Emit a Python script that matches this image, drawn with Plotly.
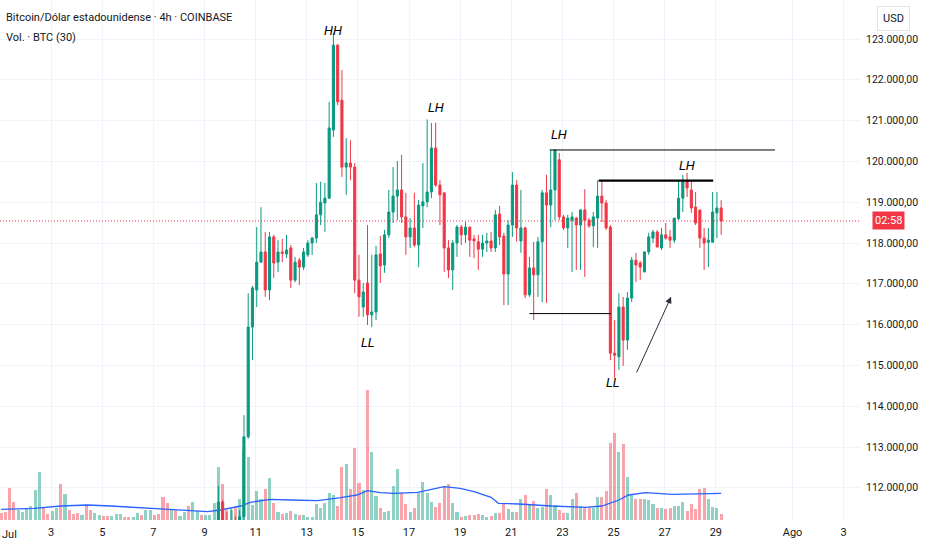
import pandas as pd
import plotly.graph_objects as go

# 4h candles (local time, UTC-3), first one visible near the bottom edge
candle_start = "2025-07-09 13:00"
opens = [
    110900, 111650, 111100, 110950, 111200, 111050,
    111290, 113250, 115940, 116850, 117530, 117780, 116850, 118150, 117530, 117780,
    117730, 117880, 117090, 117580, 117410, 117710, 118000, 118120, 118690, 118980,
    119100, 120770, 122850, 121500, 119860, 119960, 119860, 117090, 116430, 117020,
    116240, 116310, 117730, 117460, 118200, 118760, 119150, 119300, 118640, 118150,
    118370, 117950, 118910, 119010, 119250, 120330, 119420, 119230, 117880, 117340,
    118000, 118390, 118200, 118390, 118100, 118030, 117850, 118000, 118050, 117880,
    118710, 118170, 117240, 118440, 119420, 118050, 118370, 116730, 117390, 117220,
    118030, 119230, 118930, 119300, 120040, 118640, 118370, 118560, 118610, 118440,
    118810, 118560, 118420, 118610, 119150, 118980, 118390, 115300, 115210, 116430,
    115620, 116650, 117580, 117510, 117290, 117780, 118120, 118270, 117880, 118200,
    118150, 118070, 118600, 119100, 119500, 119300, 118880, 118810, 118120, 118020,
    118020, 118740, 118860,
]
highs = [
    112050, 111700, 111400, 111500, 111300, 111450,
    113780, 116770, 116950, 118390, 118880, 118270, 118270, 118200, 118070, 118100,
    118200, 117950, 117660, 117630, 117880, 118070, 118150, 119470, 119500, 119470,
    121460, 123150, 122880, 122240, 120570, 120520, 119960, 117710, 117020, 118440,
    117710, 117930, 118170, 118320, 119300, 119860, 120010, 120160, 119230, 118610,
    119230, 119050, 119960, 121030, 120940, 120950, 119540, 119230, 118070, 118070,
    118440, 118440, 118520, 118400, 118200, 118200, 118200, 118250, 118270, 118810,
    118910, 118250, 118560, 119740, 119540, 119300, 118400, 117660, 118030, 118150,
    119300, 119670, 120280, 120280, 120210, 118690, 118690, 118760, 118640, 118830,
    119320, 118610, 118760, 119540, 119540, 119050, 118440, 116110, 116770, 116680,
    116800, 117660, 117760, 117560, 117800, 118250, 118320, 118320, 118370, 118490,
    118320, 118610, 119540, 119670, 119720, 119540, 119250, 118810, 118370, 118370,
    119250, 119250, 119050,
]
lows = [
    110700, 110900, 110800, 110800, 110900, 110950,
    111150, 113200, 115130, 116430, 117530, 116680, 116600, 117140, 117290, 117530,
    117630, 116900, 117040, 116970, 117340, 117660, 117710, 118000, 118440, 118270,
    119080, 120600, 121380, 119620, 119180, 119540, 116770, 116190, 116190, 115990,
    115940, 116110, 117020, 117270, 118120, 118490, 118560, 118490, 117710, 117880,
    117900, 117410, 118370, 118880, 119100, 119370, 118440, 117290, 117140, 116850,
    117660, 117950, 118000, 117660, 117630, 117340, 117660, 117780, 117780, 117780,
    117950, 116480, 116480, 118150, 118030, 117760, 116650, 116680, 116110, 116680,
    116550, 116530, 118390, 118560, 118560, 118320, 117880, 117290, 117340, 117340,
    117170, 118370, 117900, 117880, 118510, 118320, 115130, 114690, 114890, 114990,
    115380, 116550, 117040, 117090, 117290, 117710, 118000, 117900, 117830, 118080,
    117880, 118000, 118560, 118760, 119130, 118740, 118440, 117880, 117340, 117410,
    118020, 118120, 118200,
]
closes = [
    111650, 111100, 110950, 111200, 111050, 111290,
    113250, 115940, 116900, 117530, 117780, 116850, 118150, 117510, 117780, 117750,
    117830, 117090, 117530, 117410, 117780, 118000, 118120, 118690, 119000, 119100,
    120820, 122850, 121460, 119860, 119960, 119860, 117090, 116680, 116800, 116240,
    116310, 117710, 117440, 118200, 118760, 119150, 119300, 118640, 118150, 118370,
    117950, 118930, 119010, 119250, 120330, 119420, 119180, 117880, 117340, 118000,
    118390, 118200, 118390, 118070, 118050, 117850, 118000, 118050, 117880, 118690,
    118150, 117240, 118440, 119420, 118370, 118370, 116730, 117390, 117220, 118030,
    119230, 118930, 119300, 120280, 118640, 118370, 118610, 118640, 118440, 118810,
    118560, 118420, 118640, 119150, 118980, 118370, 115300, 115250, 116430, 115620,
    116650, 117580, 117460, 117410, 117780, 118150, 118270, 117900, 118200, 118120,
    118070, 118610, 119100, 119500, 119350, 118860, 118490, 118120, 118000, 118070,
    118760, 118860, 118540,
]

# volume bars from Jul 1 (relative heights), MA(30)
vol_start = "2025-07-01 01:00"
volumes = [
    7.3, 8, 32, 18, 10, 8, 11, 14, 30, 48, 13, 6, 9, 12, 36, 26, 10, 6, 7, 5,
    15, 10, 7, 5, 4, 4, 4, 6, 6, 3, 3, 3, 7, 5, 10, 10, 5, 6, 23, 17,
    10, 10, 4, 8, 14, 18, 9, 5, 5, 5, 17, 53, 36, 10, 10, 13, 21,
    70, 63.3, 15, 29.3, 21, 30.7, 42, 16.7, 8, 6, 7.3, 9, 5.7, 5, 5, 2.7, 2.7, 15.7, 12.3, 16.7,
    27.3, 25, 14.3, 53.3, 55.7, 30.7, 72.3, 36.7, 30, 130, 68.3, 24, 12.3, 8.3, 9, 34.3, 50.7, 27.3, 15.7, 8.3,
    11.7, 26.7, 37.7, 27.3, 17.7, 13.3, 16.7, 34, 35.7, 16.7, 8.3, 3.3, 4.3, 5, 5, 6, 5, 3.3,
    4, 6.7, 7.3, 16, 11, 8, 8, 21, 25, 15, 19, 12.3, 13.3, 30.7, 25, 15, 10, 7.3, 6.7, 21,
    27.3, 14, 12.3, 12.3, 11.7, 23.3, 23.3, 29, 77.3, 86.7, 67.7, 76, 42.7, 25, 21, 21, 21, 20, 16, 11.7,
    11.7, 11, 11.7, 14.3, 14.3, 17.7, 9, 15.7, 11, 30.7, 31.7, 21, 13.3, 11.7, 6,
]
# up/down of the bars before the first drawn candle
early_vol_dir = "rrrrggggggrrggrgrrrgrrggrrgggrrggrggrrrrgrggrggrggg"

ma_times = [
    "2025-07-01 01:00", "2025-07-02 08:00", "2025-07-03 09:00", "2025-07-04 10:00",
    "2025-07-05 08:00", "2025-07-06 06:00", "2025-07-07 07:00", "2025-07-08 08:00",
    "2025-07-09 03:00", "2025-07-09 15:00", "2025-07-10 04:00", "2025-07-10 10:00",
    "2025-07-10 19:00", "2025-07-11 14:00", "2025-07-12 09:00", "2025-07-13 10:00",
    "2025-07-14 08:00", "2025-07-14 23:00", "2025-07-15 09:00", "2025-07-15 21:00",
    "2025-07-16 10:00", "2025-07-17 08:00", "2025-07-18 09:00", "2025-07-19 00:00",
    "2025-07-19 13:00", "2025-07-20 05:00", "2025-07-20 12:00", "2025-07-21 07:00",
    "2025-07-22 14:00", "2025-07-23 22:00", "2025-07-24 13:00", "2025-07-25 05:00",
    "2025-07-25 14:00", "2025-07-26 06:00", "2025-07-27 07:00", "2025-07-28 11:00",
    "2025-07-29 05:00",
]
ma_values = [
    10.7, 11.7, 14, 15, 14, 12.7, 10.7, 9, 8.3, 10, 12.3, 14,
    17.7, 20.7, 20, 19.3, 22.3, 25, 29.3, 27.3, 26.7, 27.7, 33.3, 31.7,
    28.3, 22.7, 16.7, 16, 14, 12.7, 14, 20, 25, 27.3, 25.7, 26.7, 26.7,
]

price_ticks = list(range(112000, 124000, 1000))
date_ticks = ["2025-07-%02d" % d for d in range(3, 30, 2)] + ["2025-08-01", "2025-08-03"]
date_labels = [str(d) for d in range(3, 30, 2)] + ["Ago", "3"]
last_price = closes[-1]

UP, DOWN = "#089981", "#F23645"
TXT = "#131722"
GRID = "#f0f3fa"

candle_times = pd.date_range(candle_start, periods=len(opens), freq="4h")
vol_times = pd.date_range(vol_start, periods=len(volumes), freq="4h")

up_flags = [c == "g" for c in early_vol_dir] + [c >= o for o, c in zip(opens, closes)]
vol_colors = ["rgba(8,153,129,0.45)" if u else "rgba(242,54,69,0.45)" for u in up_flags]

fig = go.Figure()
fig.add_trace(go.Bar(x=vol_times, y=volumes, marker_color=vol_colors,
                     marker_line_width=0, width=4 * 3600 * 1000 * 0.72,
                     yaxis="y", showlegend=False, hoverinfo="skip"))
fig.add_trace(go.Scatter(x=pd.to_datetime(ma_times), y=ma_values, mode="lines",
                         line=dict(color="#2962FF", width=1.3), yaxis="y",
                         showlegend=False, hoverinfo="skip"))
fig.add_trace(go.Candlestick(
    x=candle_times, open=opens, high=highs, low=lows, close=closes,
    increasing=dict(line=dict(color=UP, width=1), fillcolor=UP),
    decreasing=dict(line=dict(color=DOWN, width=1), fillcolor=DOWN),
    yaxis="y2", showlegend=False,
))

def fmt_price(v):
    return f"{v:,.2f}".replace(",", "X").replace(".", ",").replace("X", ".")

fig.update_layout(
    width=932, height=550,
    margin=dict(l=0, r=72, t=0, b=30),
    paper_bgcolor="white", plot_bgcolor="white",
    font=dict(family="Roboto, Noto Sans, sans-serif", size=11, color=TXT),
    bargap=0,
    xaxis=dict(type="date", range=["2025-07-01 00:00", "2025-08-03 15:20"],
               tickvals=date_ticks, ticktext=date_labels, showgrid=True,
               gridcolor=GRID, zeroline=False, showline=False, ticks="",
               ticklabelstandoff=4,
               rangeslider=dict(visible=False), tickfont=dict(size=11, color=TXT)),
    yaxis=dict(range=[0, 520], visible=False, showgrid=False, fixedrange=True),
    yaxis2=dict(overlaying="y", side="right", range=[111211, 123956],
                tickvals=price_ticks, ticktext=[fmt_price(v) for v in price_ticks],
                showgrid=True, gridcolor=GRID, zeroline=False, showline=False,
                ticks="", ticklabelstandoff=5, tickfont=dict(size=10.5, color=TXT)),
)

# month label at the left edge
fig.add_annotation(xref="paper", yref="paper", x=0, y=0, xanchor="left", yanchor="top",
                   xshift=0, yshift=-6, showarrow=False, text="Jul",
                   font=dict(size=11, color=TXT))

# drawn levels
levels = [
    ("2025-07-22 12:00", "2025-07-31 07:30", 120280, 1),
    ("2025-07-24 10:00", "2025-07-28 21:30", 119530, 2.2),
    ("2025-07-21 17:00", "2025-07-24 21:30", 116270, 1),
]
for x0, x1, lvl, w in levels:
    fig.add_shape(type="line", xref="x", yref="y2", x0=x0, x1=x1, y0=lvl, y1=lvl,
                  line=dict(color="#000000", width=w))

fig.add_shape(type="line", xref="paper", yref="y2", x0=0, x1=1,
              y0=last_price, y1=last_price, line=dict(color=DOWN, width=1, dash="1px,2px"))

fig.add_annotation(xref="x", yref="y2", axref="x", ayref="y2",
                   x="2025-07-27 06:00", y=116680, ax="2025-07-25 21:00", ay=114790,
                   text="", showarrow=True, arrowhead=2, arrowsize=1.3,
                   arrowwidth=1, arrowcolor="#2a2e39")

swing_labels = [
    ("HH", "2025-07-14 01:00", 123220),
    ("LH", "2025-07-18 01:00", 121310),
    ("LH", "2025-07-22 21:00", 120670),
    ("LH", "2025-07-27 21:00", 119890),
    ("LL", "2025-07-15 09:00", 115570),
    ("LL", "2025-07-24 23:00", 114570),
]
for txt, t, p in swing_labels:
    fig.add_annotation(xref="x", yref="y2", x=t, y=p, text="<i>%s</i>" % txt,
                       showarrow=False, font=dict(size=13, color="#000000"))

fig.add_annotation(xref="paper", yref="paper", x=0, y=1, xanchor="left", yanchor="top",
                   xshift=4, yshift=-9, showarrow=False, align="left",
                   text="Bitcoin/Dólar estadounidense · 4h · COINBASE",
                   font=dict(size=11, color=TXT))
fig.add_annotation(xref="paper", yref="paper", x=0, y=1, xanchor="left", yanchor="top",
                   xshift=4, yshift=-29, showarrow=False, align="left",
                   text="Vol. · BTC (30)",
                   font=dict(size=11, color=TXT))

fig.add_annotation(xref="paper", yref="paper", x=1, y=1, xanchor="left", yanchor="top",
                   xshift=17, yshift=-6, showarrow=False, text="USD",
                   bordercolor="#e0e3eb", borderwidth=1, borderpad=5,
                   font=dict(size=11, color=TXT))
fig.add_annotation(xref="paper", yref="y2", x=1, y=last_price, xanchor="left",
                   xshift=12, showarrow=False, text="02:58", bgcolor=DOWN,
                   borderpad=2, font=dict(size=11, color="white"))

fig.write_html("out.html", config={"displayModeBar": False},
               post_script="document.body.style.margin='0';")
